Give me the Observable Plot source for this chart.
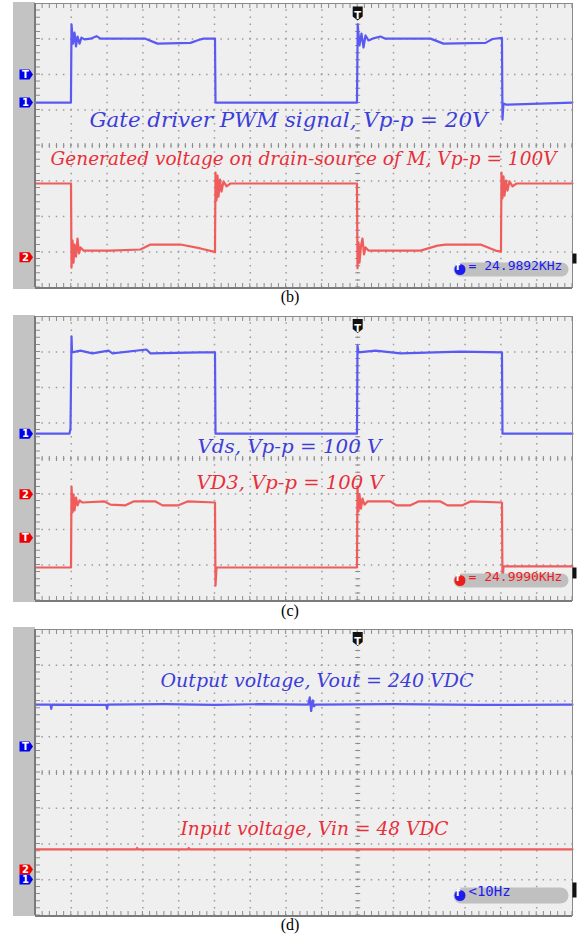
<!DOCTYPE html>
<html><head><meta charset="utf-8">
<script src="https://cdn.jsdelivr.net/npm/d3@7"></script>
<script src="https://cdn.jsdelivr.net/npm/@observablehq/plot@0.6"></script>
<style>
body{margin:0;background:#fff;}
#wrap{position:relative;width:577px;height:943px;overflow:hidden;}
.panel{position:absolute;left:0;}
.cap{position:absolute;left:0;width:580px;text-align:center;font-family:"Liberation Serif","Times New Roman",serif;font-size:16px;line-height:18px;color:#000;}
</style></head><body><div id="wrap"></div>
<script>
// ---- data: time in microseconds (5 us/div), amplitude in screen divisions ----
const triggerUs = 45;
const gridTimes = [5,10,15,20,25,30,35,40,45,50,55,60,65,70];
const gridDivs = [1,2,3,4,5,6,7];

// (b) gate driver PWM (ch1) and drain-source voltage (ch2)
const bCh1 = [[0,5.21],[4.95,5.21],[5.03,7.41],[5.24,6.87],[5.45,7.18],[5.66,6.79],[5.87,7.07],[6.15,6.87],[6.42,7.04],[6.84,6.99],[7.68,7.01],[8.52,7.08],[9.08,7.01],[15.36,7.01],[17.04,6.87],[21.65,6.89],[22.77,6.97],[23.46,7.01],[25.07,7.01],[25.14,5.21],[44.9,5.21],[45.0,7.41],[45.25,6.82],[45.53,7.15],[45.81,6.76],[46.09,7.10],[46.51,6.96],[47.07,7.01],[48.18,7.07],[48.88,7.01],[55.17,7.01],[56.98,6.87],[62.85,6.89],[63.83,7.0],[65.15,7.03],[65.22,4.73],[65.36,5.18],[65.78,5.15],[75,5.21]];
const bCh2 = [[0,2.93],[4.96,2.93],[5.03,0.56],[5.17,1.32],[5.31,0.70],[5.45,1.21],[5.66,0.87],[5.87,1.38],[6.08,0.96],[6.28,1.13],[6.70,1.04],[10.47,1.04],[14.66,1.07],[16.06,1.21],[20.25,1.21],[23.04,1.10],[24.86,1.01],[25.07,0.99],[25.14,3.24],[25.28,2.45],[25.42,3.15],[25.56,2.56],[25.77,3.04],[25.98,2.70],[26.26,2.99],[26.68,2.85],[27.23,2.93],[44.9,2.93],[44.97,0.54],[45.11,1.27],[45.25,0.70],[45.46,1.18],[45.67,1.38],[45.88,0.93],[46.09,1.13],[46.51,1.04],[53.77,1.04],[56.15,1.18],[57.26,1.21],[62.15,1.21],[64.25,1.04],[65.01,1.01],[65.08,3.24],[65.22,2.51],[65.36,3.13],[65.5,2.59],[65.71,3.01],[65.92,2.73],[66.2,2.99],[66.62,2.85],[67.18,2.93],[75,2.93]];

// (c) Vds (ch1) and VD3 (ch2)
const cCh1 = [[0,4.70],[4.75,4.70],[4.89,4.85],[5.03,7.44],[5.10,6.99],[6.28,7.04],[7.96,6.96],[10.2,7.04],[10.75,6.96],[15.5,7.07],[16.06,6.96],[23.04,6.99],[25.07,6.99],[25.14,4.70],[44.9,4.70],[44.97,7.18],[45.11,6.99],[47.49,7.04],[50.98,6.96],[59.36,7.01],[65.15,6.99],[65.22,4.70],[75,4.70]];
const cCh2 = [[0,0.93],[4.96,0.93],[5.03,3.21],[5.17,2.48],[5.31,2.99],[5.45,2.54],[5.66,2.90],[5.87,2.68],[6.15,2.82],[6.56,2.76],[9.64,2.79],[10.47,2.70],[12.57,2.68],[13.69,2.79],[16.76,2.79],[17.74,2.68],[19.97,2.68],[21.23,2.79],[25.07,2.76],[25.14,0.42],[25.28,0.93],[37.01,0.93],[44.9,0.93],[44.97,3.21],[45.11,2.51],[45.25,2.99],[45.46,2.59],[45.67,2.87],[45.95,2.70],[46.37,2.79],[49.58,2.79],[50.42,2.68],[52.37,2.68],[53.49,2.79],[56.56,2.79],[57.54,2.68],[59.64,2.68],[60.75,2.79],[65.15,2.76],[65.22,0.48],[65.36,0.96],[75,0.96]];

// (d) output voltage (ch1) and input voltage (ch2)
const dCh1 = [[0,5.90],[2.1,5.90],[2.2,5.78],[2.3,5.90],[9.9,5.89],[10.0,5.78],[10.1,5.90],[18.0,5.91],[25.0,5.89],[31.0,5.91],[38.1,5.90],[38.3,6.10],[38.5,5.72],[38.7,6.02],[38.9,5.85],[39.1,5.90],[50.0,5.91],[62.0,5.89],[75,5.90]];
const dCh2 = [[0,1.85],[14.1,1.85],[14.2,1.89],[14.3,1.85],[21.3,1.85],[21.4,1.89],[21.5,1.85],[75,1.85]];

// channel / trigger markers on the left edge
const bMarkers = [{label:"T", v:6.0, ch:1},{label:"1", v:5.21, ch:1},{label:"2", v:0.85, ch:2}];
const cMarkers = [{label:"1", v:4.70, ch:1},{label:"2", v:2.99, ch:2},{label:"T", v:1.77, ch:2}];
const dMarkers = [{label:"T", v:4.73, ch:1},{label:"2", v:1.29, ch:2},{label:"1", v:1.01, ch:1}];

// annotation texts
const bTexts = [{text:"Gate driver PWM signal, Vp-p = 20V", ch:1},{text:"Generated voltage on drain-source of M, Vp-p = 100V", ch:2}];
const cTexts = [{text:"Vds, Vp-p = 100 V", ch:1},{text:"VD3, Vp-p = 100 V", ch:2}];
const dTexts = [{text:"Output voltage, Vout = 240 VDC", ch:1},{text:"Input voltage, Vin = 48 VDC", ch:2}];
const freqReadouts = ["= 24.9892KHz","= 24.9990KHz","<10Hz"];
const captions = ["(b)","(c)","(d)"];

// ---- layout / style ----
const C1 = "#5a5af2", C2 = "#f05c5c";
const T1 = "#3d3dd8", T2 = "#e8303a";
const labelLayout = {
  "Gate driver PWM signal, Vp-p = 20V": {t:35.33, v:4.69, w:398, fs:20},
  "Generated voltage on drain-source of M, Vp-p = 100V": {t:37.43, v:3.61, w:506, fs:18},
  "Vds, Vp-p = 100 V": {t:35.47, v:4.34, w:184, fs:19},
  "VD3, Vp-p = 100 V": {t:35.54, v:3.30, w:187, fs:19},
  "Output voltage, Vout = 240 VDC": {t:39.32, v:6.55, w:313, fs:19},
  "Input voltage, Vin = 48 VDC": {t:38.97, v:2.43, w:268, fs:19}
};

const badgeRight = {draw(c){c.moveTo(-7,-5);c.lineTo(3,-5);c.lineTo(6.5,0);c.lineTo(3,5);c.lineTo(-7,5);c.closePath();}};
const badgeDown = {draw(c){c.moveTo(-5,-7);c.lineTo(5,-7);c.lineTo(5,3);c.lineTo(0,7);c.lineTo(-5,3);c.closePath();}};
function roundBox(w,h){const r=h/2;return {draw(c){c.moveTo(-w/2+r,-h/2);c.lineTo(w/2-r,-h/2);c.arcTo(w/2,-h/2,w/2,0,r);c.arcTo(w/2,h/2,w/2-r,h/2,r);c.lineTo(-w/2+r,h/2);c.arcTo(-w/2,h/2,-w/2,0,r);c.arcTo(-w/2,-h/2,-w/2+r,-h/2,r);c.closePath();}};}
function bar(w,h){return {draw(c){c.rect(-w/2,-h/2,w,h);}};}

function panel(cfg){
  const W = 577, mL = 35, mR = 5;
  const fh = cfg.height - cfg.mTop - cfg.mBottom;
  const py = fh/40, px = (W-mL-mR)/75;
  const tickC = "#8c8c8c", dotC = "#9c9c9c";
  const col = ch => ch===1 ? C1 : C2;
  const svg = Plot.plot({
    width: W, height: cfg.height,
    marginLeft: mL, marginRight: mR, marginTop: cfg.mTop, marginBottom: cfg.mBottom,
    x: {domain:[0,75], axis:null},
    y: {domain:[0,8], axis:null},
    style: {background:"linear-gradient(to right, #fff 13px, #c3c3c3 13px, #c3c3c3 35px, #fff 35px)", overflow:"visible"},
    marks: [
      Plot.frame({fill:"#efefef"}),
      Plot.ruleX(gridTimes, {stroke:dotC, strokeWidth:1.5, strokeDasharray:`1.5 ${py-1.5}`, strokeDashoffset:0.75}),
      Plot.ruleY(gridDivs, {stroke:dotC, strokeWidth:1.5, strokeDasharray:`1.5 ${px-1.5}`, strokeDashoffset:0.75}),
      Plot.ruleY([8], {stroke:tickC, strokeWidth:4, dy:2.5, strokeDasharray:`1 ${px-1}`, strokeDashoffset:0.5}),
      Plot.ruleY([0], {stroke:tickC, strokeWidth:4, dy:-2.5, strokeDasharray:`1 ${px-1}`, strokeDashoffset:0.5}),
      Plot.ruleY([4], {stroke:tickC, strokeWidth:5, strokeDasharray:`1 ${px-1}`, strokeDashoffset:0.5}),
      Plot.ruleX([0], {stroke:tickC, strokeWidth:4, dx:2.5, strokeDasharray:`1 ${py-1}`, strokeDashoffset:0.5}),
      Plot.ruleX([triggerUs], {stroke:tickC, strokeWidth:5, strokeDasharray:`1 ${py-1}`, strokeDashoffset:0.5}),
      Plot.line(cfg.ch1, {stroke:C1, strokeWidth:2.2}),
      Plot.line(cfg.ch2, {stroke:C2, strokeWidth:2.2}),
      Plot.frame({stroke:"#8a8a8a", strokeWidth:1}),
      Plot.ruleX([0], {stroke:"#7a7a7a", strokeWidth:2, dx:-0.5}),
      Plot.ruleY([0], {stroke:"#7a7a7a", strokeWidth:2, dy:0.5}),
      Plot.text(cfg.texts, {x:d=>labelLayout[d.text].t, y:d=>labelLayout[d.text].v, text:"text",
        fill:d=>d.ch===1?T1:T2, fontFamily:"DejaVu Serif", fontStyle:"italic", fontSize:d=>labelLayout[d.text].fs}),
      Plot.dot(cfg.markers, {x:()=>0, y:"v", dx:-9, symbol:badgeRight, fill:d=>d.ch===1?"#0000ee":"#ee0000", stroke:"none", r:5}),
      Plot.text(cfg.markers, {x:()=>0, y:"v", dx:-10, text:"label", fill:"#fff", fontSize:10, fontWeight:"bold", fontFamily:"DejaVu Sans"}),
      Plot.dot([triggerUs], {x:d=>d, frameAnchor:"top", dy:cfg.trigDy, symbol:badgeDown, fill:"#111", r:5}),
      Plot.text([triggerUs], {x:d=>d, frameAnchor:"top", dy:cfg.trigDy-1.5, text:()=>"T", fill:"#fff", fontSize:10, fontWeight:"bold", fontFamily:"DejaVu Sans"}),
      Plot.dot([cfg.freq], {frameAnchor:"bottom-right", dx:-61.5, dy:cfg.boxDy, symbol:roundBox(115,cfg.boxH), fill:"#c0c0c0", r:5}),
      Plot.dot([cfg.freq], {frameAnchor:"bottom-right", dx:-112.5, dy:cfg.boxDy, symbol:"circle", r:5.5, fill:cfg.freqColor}),
      Plot.text([cfg.freq], {frameAnchor:"bottom-right", dx:-112.5, dy:cfg.boxDy, text:()=>"f", fill:"#fff", fontSize:10, fontWeight:"bold", fontFamily:"DejaVu Sans"}),
      Plot.text([cfg.freq], {frameAnchor:"bottom-right", dx:-104, dy:cfg.boxDy, text:d=>d, textAnchor:"start", fill:cfg.freqColor, fontSize:cfg.freqFs, fontFamily:"DejaVu Sans Mono", fontWeight:"normal"}),
      Plot.dot([cfg.freq], {frameAnchor:"bottom-right", dx:2, dy:cfg.barDy, symbol:bar(4,cfg.barH), fill:"#111", r:5})
    ]
  });
  svg.querySelectorAll("text").forEach(t => {
    const L = labelLayout[t.textContent];
    if (L) { t.setAttribute("textLength", L.w); t.setAttribute("lengthAdjust", "spacingAndGlyphs"); }
  });
  svg.style.position = "absolute";
  svg.style.left = "0px";
  svg.style.top = cfg.top + "px";
  return svg;
}

const wrap = document.getElementById("wrap");
const panels = [
  {top:2, height:287, mTop:1, mBottom:2, ch1:bCh1, ch2:bCh2, markers:bMarkers, texts:bTexts, freq:freqReadouts[0], freqColor:"#1c1cf0", freqFs:13, boxDy:-18, boxH:14, barDy:-29, barH:10, trigDy:10},
  {top:315, height:287, mTop:1, mBottom:2, ch1:cCh1, ch2:cCh2, markers:cMarkers, texts:cTexts, freq:freqReadouts[1], freqColor:"#f01c1c", freqFs:13, boxDy:-20, boxH:14, barDy:-27.5, barH:11, trigDy:9.5},
  {top:627, height:289, mTop:2, mBottom:1, ch1:dCh1, ch2:dCh2, markers:dMarkers, texts:dTexts, freq:freqReadouts[2], freqColor:"#1c1cf0", freqFs:14, boxDy:-20, boxH:16, barDy:-25.5, barH:15, trigDy:9.5}
];
panels.forEach(p => wrap.appendChild(panel(p)));
const capTops = [288, 602, 916];
captions.forEach((c,i) => {
  const d = document.createElement("div");
  d.className = "cap"; d.style.top = capTops[i] + "px"; d.textContent = c;
  wrap.appendChild(d);
});
</script></body></html>
